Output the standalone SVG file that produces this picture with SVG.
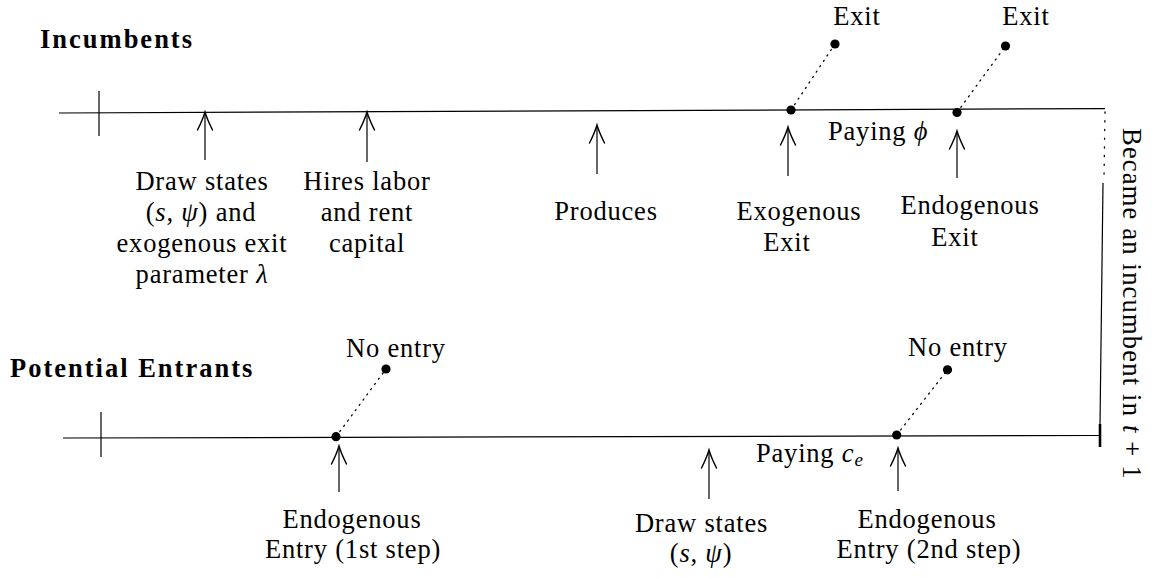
<svg xmlns="http://www.w3.org/2000/svg" width="1154" height="577" viewBox="0 0 1154 577">
<style>
  text { font-family: "Liberation Serif", "Times New Roman", serif; font-size: 26.5px; fill: #000; letter-spacing: 0.8px; }
  .c { text-anchor: middle; }
  .b { font-weight: bold; letter-spacing: 2px; }
  .i { font-style: italic; }
  .ln { stroke: #000; stroke-width: 1.2; fill: none; }
  .dot { stroke: #000; stroke-width: 1.3; fill: none; stroke-dasharray: 1.2 5.3; stroke-linecap: round; }
  .ah { stroke: #000; stroke-width: 1.4; fill: none; stroke-linecap: round; }
  .pt { fill: #000; }
</style>
<rect width="1154" height="577" fill="#fff"/>

<g id="connectors">
  <line class="ln" x1="59" y1="113" x2="1105" y2="108.6"/>
  <line class="ln" x1="63" y1="438" x2="1100" y2="435.5"/>
  <line class="ln" x1="99" y1="91" x2="99" y2="136"/>
  <line class="ln" x1="101" y1="412" x2="101" y2="457"/>
  <line class="dot" x1="1105" y1="112" x2="1104" y2="178" style="stroke-dasharray:1.2 7.5"/>
  <line class="ln" x1="1103" y1="183" x2="1100" y2="425"/>
  <line x1="1100" y1="424" x2="1100" y2="447" stroke="#000" stroke-width="2.6"/>
  <line class="dot" x1="791" y1="110" x2="835" y2="44"/>
  <line class="dot" x1="957" y1="112.5" x2="1005.5" y2="46"/>
  <line class="dot" x1="336" y1="436.7" x2="386" y2="369"/>
  <line class="dot" x1="896.7" y1="435" x2="947.5" y2="369.8"/>
  <line class="ln" x1="205" y1="113" x2="205" y2="160"/>
  <path class="ah" d="M197.5 130 Q203 119 205 112 Q207 119 212.5 130"/>
  <line class="ln" x1="367" y1="113" x2="367" y2="162"/>
  <path class="ah" d="M359.5 130 Q365 119 367 112 Q369 119 374.5 130"/>
  <line class="ln" x1="597" y1="126" x2="597" y2="174"/>
  <path class="ah" d="M589.5 143 Q595 132 597 125 Q599 132 604.5 143"/>
  <line class="ln" x1="788" y1="128" x2="788" y2="176"/>
  <path class="ah" d="M780.5 145 Q786 134 788 127 Q790 134 795.5 145"/>
  <line class="ln" x1="957" y1="132" x2="957" y2="178"/>
  <path class="ah" d="M949.5 149 Q955 138 957 131 Q959 138 964.5 149"/>
  <line class="ln" x1="339" y1="447" x2="339" y2="492"/>
  <path class="ah" d="M331.5 464 Q337 453 339 446 Q341 453 346.5 464"/>
  <line class="ln" x1="709" y1="451" x2="709" y2="499"/>
  <path class="ah" d="M701.5 468 Q707 457 709 450 Q711 457 716.5 468"/>
  <line class="ln" x1="898" y1="449" x2="898" y2="491"/>
  <path class="ah" d="M890.5 466 Q896 455 898 448 Q900 455 905.5 466"/>
</g>

<g id="incumbents-title"><text class="b" x="40" y="48">Incumbents</text></g>
<g id="entrants-title"><text class="b" x="10" y="377">Potential Entrants</text></g>

<g id="inc-draw">
  <text class="c" x="202" y="190">Draw states</text>
  <text class="c" x="201" y="221">(<tspan class="i">s</tspan>, <tspan class="i">ψ</tspan>) and</text>
  <text class="c" x="202" y="252">exogenous exit</text>
  <text class="c" x="202" y="283">parameter <tspan class="i">λ</tspan></text>
</g>
<g id="inc-hires">
  <text class="c" x="367" y="190">Hires labor</text>
  <text class="c" x="367" y="221">and rent</text>
  <text class="c" x="367" y="252">capital</text>
</g>
<g id="inc-produces"><text class="c" x="606" y="220">Produces</text></g>
<g id="inc-exo">
  <circle class="pt" cx="791" cy="110" r="4.6"/>
  <text class="c" x="799" y="220">Exogenous</text>
  <text class="c" x="787" y="251">Exit</text>
</g>
<g id="inc-exo-exit">
  <circle class="pt" cx="835" cy="44" r="4.6"/>
  <text class="c" x="857" y="25">Exit</text>
</g>
<g id="inc-paying"><text x="828" y="140">Paying <tspan class="i">ϕ</tspan></text></g>
<g id="inc-endo">
  <circle class="pt" cx="957" cy="112.5" r="4.6"/>
  <text class="c" x="970" y="214">Endogenous</text>
  <text class="c" x="955" y="246">Exit</text>
</g>
<g id="inc-endo-exit">
  <circle class="pt" cx="1005.5" cy="46" r="4.6"/>
  <text class="c" x="1026" y="25">Exit</text>
</g>

<g id="became">
  <text transform="translate(1123,128) rotate(90)" x="0" y="0" style="letter-spacing:1.2px">Became an incumbent in <tspan class="i">t</tspan> + 1</text>
</g>

<g id="ent-step1">
  <circle class="pt" cx="336" cy="436.7" r="4.6"/>
  <text class="c" x="352" y="528">Endogenous</text>
  <text class="c" x="353" y="558">Entry (1st step)</text>
</g>
<g id="ent-noentry1">
  <circle class="pt" cx="386" cy="369" r="4.6"/>
  <text class="c" x="396" y="357">No entry</text>
</g>
<g id="ent-draw">
  <text class="c" x="701.5" y="532">Draw states</text>
  <text class="c" x="701" y="562">(<tspan class="i">s</tspan>, <tspan class="i">ψ</tspan>)</text>
</g>
<g id="ent-paying"><text x="756" y="462">Paying <tspan class="i">c</tspan><tspan class="i" font-size="19" dy="4">e</tspan></text></g>
<g id="ent-step2">
  <circle class="pt" cx="896.7" cy="435" r="4.6"/>
  <text class="c" x="927" y="528">Endogenous</text>
  <text class="c" x="929" y="558">Entry (2nd step)</text>
</g>
<g id="ent-noentry2">
  <circle class="pt" cx="947.5" cy="369.8" r="4.6"/>
  <text class="c" x="958" y="356">No entry</text>
</g>
</svg>
